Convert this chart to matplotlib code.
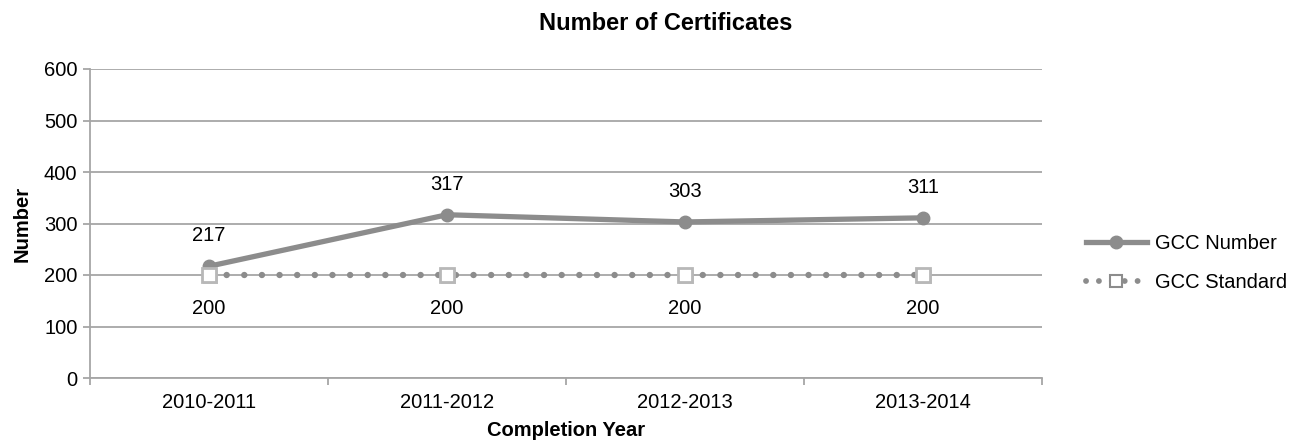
import numpy as np
import matplotlib.pyplot as plt
import matplotlib.patheffects as pe

plt.rcParams['font.family'] = ['Liberation Sans', 'DejaVu Sans']

# data
years = ['2010-2011', '2011-2012', '2012-2013', '2013-2014']
gcc_number = [217, 317, 303, 311]
gcc_standard = [200, 200, 200, 200]

line_gray = '#8c8c8c'
grid_gray = '#a6a6a6'
fs = 14.5

fig = plt.figure(figsize=(12.99, 4.46), dpi=100)
ax = fig.add_axes([90/1299, 1 - 378/446, (1042 - 90)/1299, (378 - 69)/446])

x = np.arange(len(years))

# standard line: dotted with small round dots
ax.plot(x, gcc_standard, color=line_gray, lw=4.6,
        linestyle=(0, (0.01, 2.75)), dash_capstyle='round', zorder=3)

# GCC number: thick solid line with round markers
ax.plot(x, gcc_number, color=line_gray, lw=3.8, marker='o', markersize=9,
        markerfacecolor=line_gray, markeredgecolor=line_gray, zorder=4)

# white square markers of the standard sit on top
ax.plot(x, gcc_standard, linestyle='none', marker='s', markersize=10.5,
        markerfacecolor='white', markeredgecolor='#b8b8b8', markeredgewidth=2,
        zorder=5,
        path_effects=[pe.SimplePatchShadow(offset=(1, -1.5), shadow_rgbFace='#999999', alpha=0.5),
                      pe.Normal()])

# legend handles (drawn separately so styles match the picture)
h1, = ax.plot([], [], color=line_gray, lw=3.8, marker='o', markersize=9)
h2, = ax.plot([], [], color=line_gray, lw=4.2, linestyle=(0, (0.01, 2.2)),
              dash_capstyle='round', marker='s', markersize=8,
              markerfacecolor='white', markeredgecolor=line_gray, markeredgewidth=1.5)

# data labels
for xi, v in zip(x, gcc_number):
    ax.annotate(str(v), (xi, v), xytext=(0, 22), textcoords='offset points',
                ha='center', va='center', fontsize=fs)
for xi, v in zip(x, gcc_standard):
    ax.annotate(str(v), (xi, v), xytext=(0, -24), textcoords='offset points',
                ha='center', va='center', fontsize=fs)

ax.set_xlim(-0.5, len(years) - 0.5)
ax.set_ylim(0, 600)
ax.set_yticks(range(0, 601, 100))
ax.yaxis.grid(True, color=grid_gray, lw=1.3)
ax.set_axisbelow(True)

# category ticks between groups, labels centred
ax.set_xticks(np.arange(-0.5, len(years), 1.0))
ax.set_xticklabels([])
ax.set_xticks(x, minor=True)
ax.set_xticklabels(years, minor=True)
ax.tick_params(axis='x', which='minor', length=0, pad=11, labelsize=fs)
ax.tick_params(axis='x', which='major', length=5, width=1.3, color=grid_gray, direction='out')
ax.tick_params(axis='y', length=5, width=1.3, color=grid_gray, labelsize=fs, pad=4)

for side in ['top', 'right']:
    ax.spines[side].set_visible(False)
for side in ['left', 'bottom']:
    ax.spines[side].set_color(grid_gray)
    ax.spines[side].set_linewidth(1.3)

ax.set_xlabel('Completion Year', fontsize=fs, fontweight='bold', labelpad=6)
ax.set_ylabel('Number', fontsize=fs, fontweight='bold', labelpad=9)
fig.text(666/1299, 1 - 23/446, 'Number of Certificates', ha='center', va='center',
         fontsize=17, fontweight='bold')

fig.legend([h1, h2], ['GCC Number', 'GCC Standard'], loc='center left',
           bbox_to_anchor=(1068/1299, 1 - 263/446), frameon=False, fontsize=fs,
           handlelength=3.0, handletextpad=0.4, labelspacing=0.95)

fig.savefig('out.png', dpi=100)
